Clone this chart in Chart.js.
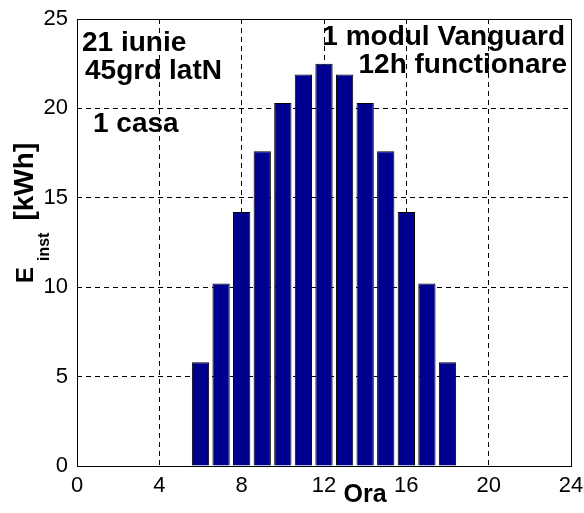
<!DOCTYPE html>
<html>
<head>
<meta charset="utf-8">
<script src="https://cdn.jsdelivr.net/npm/chart.js@4/dist/chart.umd.min.js"></script>
<style>
  body { margin: 0; background: #fff; }
  canvas { display: block; }
</style>
</head>
<body>
<canvas id="myChart" width="584" height="513"></canvas>
<script>
// hour of day and installed energy per hour (kWh)
const hours = [6, 7, 8, 9, 10, 11, 12, 13, 14, 15, 16, 17, 18]
const energy = [5.8, 10.2, 14.2, 17.6, 20.3, 21.9, 22.5, 21.9, 20.3, 17.6, 14.2, 10.2, 5.8]
const notesLeft = ['21 iunie', '45grd latN', '1 casa']
const notesRight = ['1 modul Vanguard', '12h functionare']

const tickFont = { family: 'Liberation Sans, Arial, sans-serif', size: 22 }
const boldFont = 'bold 28px "Liberation Sans", Arial, sans-serif'

const hideEnds = (min, max) => ctx =>
    (ctx.tick && (ctx.tick.value === min || ctx.tick.value === max)) ? 'rgba(0,0,0,0)' : '#000'

const decorations = {
    id: 'decorations',
    afterDraw(chart) {
        const c = chart.ctx
        const a = chart.chartArea
        c.save()
        // frame
        c.strokeStyle = '#000'
        c.lineWidth = 1
        c.strokeRect(a.left + 0.5, a.top + 0.5, a.right - a.left, a.bottom - a.top)

        // notes inside the plot
        c.fillStyle = '#000'
        c.font = boldFont
        c.textBaseline = 'alphabetic'
        c.textAlign = 'left'
        c.fillText(notesLeft[0], a.left + 5, a.top + 32)
        c.fillText(notesLeft[1], a.left + 8, a.top + 60)
        c.fillText(notesLeft[2], a.left + 16, a.top + 113)
        c.textAlign = 'right'
        c.fillText(notesRight[0], a.right - 6, a.top + 26)
        c.fillText(notesRight[1], a.right - 4, a.top + 54)

        // x title
        c.textAlign = 'center'
        c.font = 'bold 25px "Liberation Sans", Arial, sans-serif'
        c.fillText('Ora', 365, 502)

        // y title with subscript
        c.translate(33, 283)
        c.rotate(-Math.PI / 2)
        c.textAlign = 'left'
        c.font = 'bold 24px "Liberation Sans", Arial, sans-serif'
        c.fillText('E', 0, 0)
        let pos = c.measureText('E').width
        c.font = 'bold 16px "Liberation Sans", Arial, sans-serif'
        c.fillText('inst', pos + 6, 16)
        pos += 6 + c.measureText('inst').width + 12
        c.font = 'bold 28px "Liberation Sans", Arial, sans-serif'
        c.fillText('[kWh]', pos, 0)
        c.restore()
    }
}

const ctx = document.getElementById('myChart').getContext('2d')
window.myChart = new Chart(ctx, {
    type: 'bar',
    data: {
        datasets: [{
            data: hours.map((h, i) => ({ x: h, y: energy[i] })),
            backgroundColor: '#00008f',
            borderColor: '#000',
            borderWidth: 1,
            borderSkipped: 'start',
            categoryPercentage: 1,
            barPercentage: 0.84,
        }]
    },
    options: {
        responsive: false,
        animation: false,
        layout: { padding: { top: 19, right: 13, left: 0, bottom: 0 } },
        plugins: { legend: { display: false }, tooltip: { enabled: false } },
        scales: {
            x: {
                type: 'linear',
                min: 0,
                max: 24,
                offset: false,
                ticks: { stepSize: 4, color: '#000', font: tickFont, padding: 7, maxRotation: 0 },
                grid: { color: hideEnds(0, 24), drawTicks: false, offset: false },
                border: { display: false, dash: [5, 4] },
                afterFit: scale => {
                    scale.height = 47
                    scale.paddingLeft = 0
                    scale.paddingRight = 0
                },
            },
            y: {
                min: 0,
                max: 25,
                ticks: { stepSize: 5, color: '#000', font: tickFont, padding: 9 },
                grid: { color: hideEnds(0, 25), drawTicks: false },
                border: { display: false, dash: [5, 4] },
                afterFit: scale => {
                    scale.width = 77
                    scale.paddingTop = 0
                    scale.paddingBottom = 0
                },
            },
        },
    },
    plugins: [decorations],
})
</script>
</body>
</html>
